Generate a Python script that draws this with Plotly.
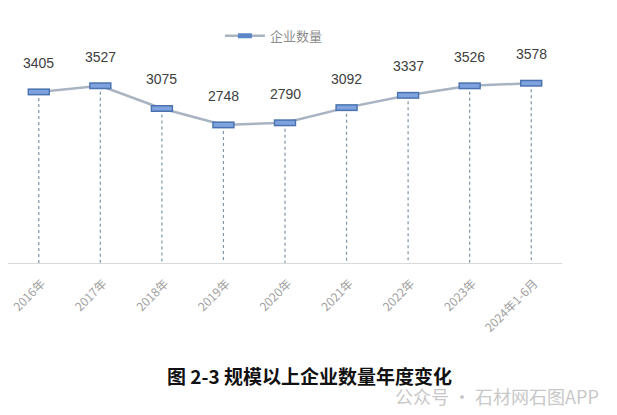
import plotly.graph_objects as go

categories = ["2016年", "2017年", "2018年", "2019年", "2020年", "2021年", "2022年", "2023年", "2024年1-6月"]
values = [3405, 3527, 3075, 2748, 2790, 3092, 3337, 3526, 3578]
series_name = "企业数量"
title_text = "图 2-3 规模以上企业数量年度变化"
watermark = "公众号 · 石材网石图APP"

fig = go.Figure()

# dotted drop lines
dx, dy = [], []
for c, v in zip(categories, values):
    dx += [c, c, None]
    dy += [v, 0, None]
fig.add_trace(go.Scatter(x=dx, y=dy, mode="lines", showlegend=False, hoverinfo="skip",
                         line=dict(color="#7f95a8", width=1.2, dash="dot")))

# main line
fig.add_trace(go.Scatter(x=categories, y=values, mode="lines", showlegend=False,
                         line=dict(color="#a9b4c2", width=2.5)))
# marker borders
fig.add_trace(go.Scatter(x=categories, y=values, mode="markers", showlegend=False,
                         marker=dict(symbol="line-ew", size=16, line=dict(width=7, color="#4a72b0"))))
# marker fill
fig.add_trace(go.Scatter(x=categories, y=values, mode="markers", showlegend=False,
                         marker=dict(symbol="line-ew", size=14, line=dict(width=4, color="#7ea3de"))))
# legend entry
fig.add_trace(go.Scatter(x=[None], y=[None], mode="lines+markers", name=series_name,
                         line=dict(color="#a9b4c2", width=2.5),
                         marker=dict(symbol="line-ew", size=10, line=dict(width=5, color="#5b86c8"))))

for c, v in zip(categories, values):
    fig.add_annotation(x=c, y=v, text=str(v), showarrow=False, yshift=29,
                       font=dict(size=14, color="#404040", family="Liberation Sans, Arial"))

fig.add_annotation(xref="paper", yref="paper", x=0.545, y=-0.56, text="<b>" + title_text + "</b>",
                   showarrow=False, font=dict(size=19, color="#111111", family="Noto Sans CJK SC"),
                   xanchor="center", yanchor="middle")
fig.add_annotation(xref="paper", yref="paper", x=1.07, y=-0.66, text=watermark,
                   showarrow=False, font=dict(size=18, color="#c8c8c8", family="Noto Sans CJK SC"),
                   xanchor="right", yanchor="middle")

fig.update_layout(
    width=617, height=415,
    margin=dict(l=0, r=63, t=54, b=160),
    paper_bgcolor="white", plot_bgcolor="white",
    showlegend=True,
    legend=dict(orientation="h", x=0.48, xanchor="center", y=1.13, yanchor="middle",
                font=dict(size=13, color="#8c8c8c", family="Noto Sans CJK SC"),
                itemwidth=40),
    xaxis=dict(type="category", range=[-0.5, 8.5], showgrid=False, showline=True,
               linecolor="#d9d9d9", linewidth=1, ticks="", tickangle=-45, automargin=False,
               ticklabelstandoff=8, ticklabelshift=3,
               tickfont=dict(size=12, color="#a0a0a0", family="Noto Sans CJK SC")),
    yaxis=dict(range=[0, 4000], visible=False, showgrid=False, zeroline=False, automargin=False),
)

fig.write_html("out.html")
